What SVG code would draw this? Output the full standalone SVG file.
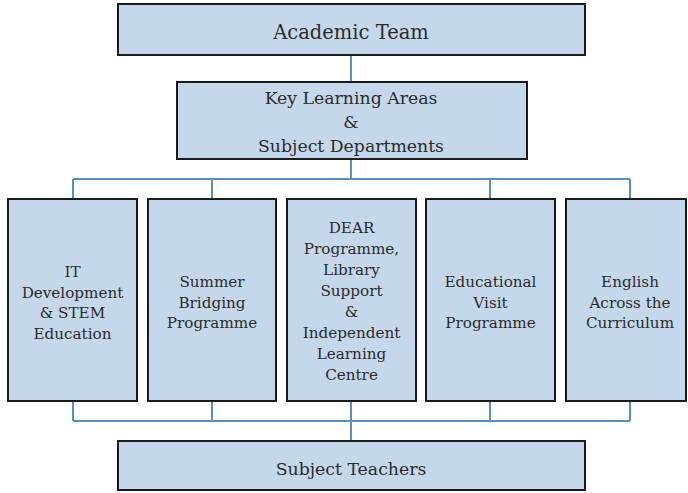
<svg xmlns="http://www.w3.org/2000/svg" width="688" height="493" viewBox="0 0 688 493">
<style>
.box{fill:#c5d8eb;stroke:#1a1a1a;stroke-width:2}
.t{font-family:"DejaVu Serif","Liberation Serif",serif;fill:#2b2b2b;text-anchor:middle}
.big{font-size:19.5px}
.mid{font-size:17.3px}
.sm{font-size:15.2px}
.con{fill:none;stroke:#5b8ec0;stroke-width:2}
</style>
<g id="connectors">
<path class="con" d="M351 55V82M351 159V179M73 179H630M73 179V199M212 179V199M490 179V199M630 179V199"/>
<path class="con" d="M73 401V421M212 401V421M351 401V441M490 401V421M630 401V421M73 421H630"/>
</g>
<g id="academic-team">
<rect class="box" x="118" y="4" width="467" height="51"/>
<text class="t big" x="351" y="39">Academic Team</text>
</g>
<g id="kla">
<rect class="box" x="177" y="82" width="350" height="77"/>
<text class="t mid" x="351" y="104">Key Learning Areas</text>
<text class="t mid" x="351" y="128">&amp;</text>
<text class="t mid" x="351" y="152">Subject Departments</text>
</g>
<g id="it">
<rect class="box" x="8" y="199" width="129" height="202"/>
<text class="t sm" x="72.5" y="277">IT</text>
<text class="t sm" x="72.5" y="297.7">Development</text>
<text class="t sm" x="72.5" y="318.4">&amp; STEM</text>
<text class="t sm" x="72.5" y="339.1">Education</text>
</g>
<g id="summer">
<rect class="box" x="148" y="199" width="128" height="202"/>
<text class="t sm" x="212" y="287">Summer</text>
<text class="t sm" x="212" y="307.7">Bridging</text>
<text class="t sm" x="212" y="328.4">Programme</text>
</g>
<g id="dear">
<rect class="box" x="287" y="199" width="129" height="202"/>
<text class="t sm" x="351.5" y="233">DEAR</text>
<text class="t sm" x="351.5" y="254">Programme,</text>
<text class="t sm" x="351.5" y="275">Library</text>
<text class="t sm" x="351.5" y="296">Support</text>
<text class="t sm" x="351.5" y="317">&amp;</text>
<text class="t sm" x="351.5" y="338">Independent</text>
<text class="t sm" x="351.5" y="359">Learning</text>
<text class="t sm" x="351.5" y="380">Centre</text>
</g>
<g id="visit">
<rect class="box" x="426" y="199" width="129" height="202"/>
<text class="t sm" x="490.5" y="287">Educational</text>
<text class="t sm" x="490.5" y="307.7">Visit</text>
<text class="t sm" x="490.5" y="328.4">Programme</text>
</g>
<g id="english">
<rect class="box" x="566" y="199" width="120" height="202"/>
<text class="t sm" x="630" y="287">English</text>
<text class="t sm" x="630" y="307.7">Across the</text>
<text class="t sm" x="630" y="328.4">Curriculum</text>
</g>
<g id="teachers">
<rect class="box" x="118" y="441" width="467" height="49"/>
<text class="t mid" x="351" y="475">Subject Teachers</text>
</g>
</svg>
